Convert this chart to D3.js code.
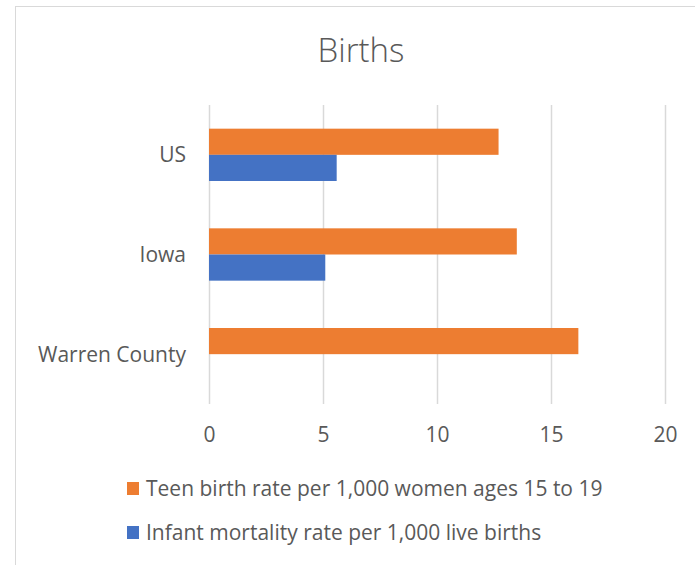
<!DOCTYPE html>
<html lang="en">
<head>
<meta charset="UTF-8">
<title>Births</title>
<script src="https://d3js.org/d3.v7.min.js"></script>
<style>
  body { margin: 0; background: #fff; }
  svg { display: block; font-family: "Open Sans", "Noto Sans", sans-serif; }
  .tick text { fill: #595959; }
</style>
</head>
<body>
<div id="chart"></div>
<script>
// data
const categories = ["US", "Iowa", "Warren County"];
const seriesNames = [
  "Teen birth rate per 1,000 women ages 15 to 19",
  "Infant mortality rate per 1,000 live births"
];
const teenBirthRate = [12.7, 13.5, 16.2];
const infantMortality = [5.6, 5.1, null];
const xTicks = [0, 5, 10, 15, 20];
const colors = ["#ED7D31", "#4472C4"];

const W = 695, H = 565;
const plot = { left: 209, right: 665, top: 105, bottom: 404 };
const font = '"Open Sans", "Noto Sans", sans-serif';

const svg = d3.select("#chart").append("svg")
  .attr("width", W)
  .attr("height", H);

// chart area outline (only top and left edges are inside the picture)
svg.append("rect")
  .attr("x", 15.5).attr("y", 6.5)
  .attr("width", 720).attr("height", 620)
  .attr("fill", "#fff")
  .attr("stroke", "#d9d9d9");

svg.append("text")
  .attr("x", 361).attr("y", 62)
  .attr("text-anchor", "middle")
  .attr("fill", "#595959")
  .style("font-size", "33px")
  .style("font-weight", 300)
  .text("Births");

const x = d3.scaleLinear().domain([0, 20]).range([plot.left, plot.right]);
const y = d3.scaleBand()
  .domain(categories)
  .range([plot.top, plot.bottom])
  .paddingInner(0.475)
  .paddingOuter(0.2375);
const ySub = d3.scaleBand().domain([0, 1]).range([0, y.bandwidth()]);

// vertical gridlines
svg.append("g")
  .attr("transform", `translate(0,${plot.top})`)
  .call(d3.axisBottom(x).tickValues(xTicks).tickSize(plot.bottom - plot.top).tickFormat(""))
  .call(g => g.select(".domain").remove())
  .call(g => g.selectAll("line").attr("stroke", "#d9d9d9").attr("stroke-width", 1.5));

// x tick labels
svg.append("g")
  .attr("transform", `translate(0,${plot.bottom})`)
  .call(d3.axisBottom(x).tickValues(xTicks).tickSize(0).tickPadding(23))
  .attr("font-family", font)
  .attr("font-size", 21)
  .call(g => g.select(".domain").remove());

// category labels
svg.append("g")
  .attr("transform", `translate(${plot.left},0)`)
  .call(d3.axisLeft(y).tickSize(0).tickPadding(23))
  .attr("font-family", font)
  .attr("font-size", 21)
  .call(g => g.select(".domain").remove())
  .selectAll("text").attr("dy", "0.36em");

const rows = categories.map((c, i) => ({ cat: c, vals: [teenBirthRate[i], infantMortality[i]] }));

const groups = svg.append("g").selectAll("g")
  .data(rows)
  .join("g")
  .attr("transform", d => `translate(0,${y(d.cat)})`);

groups.selectAll("rect")
  .data(d => d.vals.map((v, k) => ({ k, v })).filter(e => e.v != null))
  .join("rect")
  .attr("x", x(0))
  .attr("y", e => ySub(e.k))
  .attr("width", e => x(e.v) - x(0))
  .attr("height", ySub.bandwidth())
  .attr("fill", e => colors[e.k]);

// legend
const legendY = [496, 540];
const legend = svg.append("g").selectAll("g")
  .data(seriesNames)
  .join("g")
  .attr("transform", (d, i) => `translate(127,${legendY[i]})`);

legend.append("rect")
  .attr("x", 0).attr("y", -14)
  .attr("width", 12).attr("height", 13)
  .attr("fill", (d, i) => colors[i]);

legend.append("text")
  .attr("x", 19).attr("y", 0)
  .attr("fill", "#595959")
  .style("font-size", "21px")
  .text(d => d);
</script>
</body>
</html>
